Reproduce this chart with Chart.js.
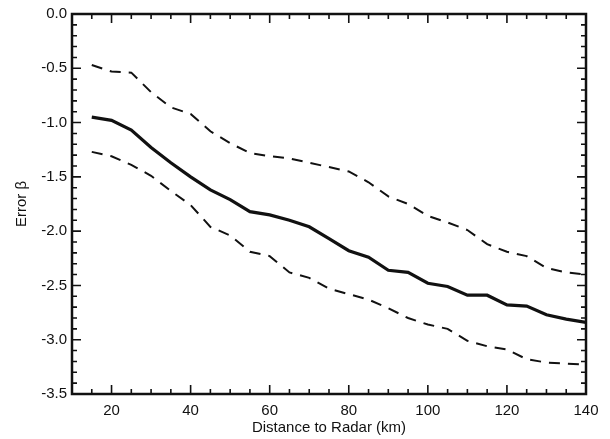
<!DOCTYPE html>
<html>
<head>
<meta charset="utf-8">
<script src="https://cdn.jsdelivr.net/npm/chart.js@4"></script>
<style>
  html, body { margin: 0; padding: 0; background: #fff; }
  #wrap { width: 610px; height: 439px; }
</style>
</head>
<body>
<div id="wrap"><canvas id="errChart" width="610" height="439"></canvas></div>
<script>
// distance to radar (km)
const distance = [15, 20, 25, 30, 35, 40, 45, 50, 55, 60, 65, 70, 75, 80, 85, 90, 95, 100, 105, 110, 115, 120, 125, 130, 135, 140];
// mean error
const errMean = [-0.95, -0.98, -1.07, -1.23, -1.37, -1.50, -1.62, -1.71, -1.82, -1.85, -1.90, -1.96, -2.07, -2.18, -2.24, -2.36, -2.38, -2.48, -2.51, -2.59, -2.59, -2.68, -2.69, -2.77, -2.81, -2.84];
// upper and lower bounds (dashed)
const errUpper = [-0.47, -0.53, -0.54, -0.72, -0.86, -0.92, -1.08, -1.19, -1.28, -1.31, -1.33, -1.37, -1.41, -1.45, -1.55, -1.68, -1.75, -1.86, -1.92, -1.99, -2.12, -2.19, -2.23, -2.34, -2.38, -2.40];
const errLower = [-1.27, -1.31, -1.39, -1.49, -1.63, -1.76, -1.96, -2.04, -2.19, -2.23, -2.38, -2.43, -2.53, -2.58, -2.63, -2.71, -2.80, -2.86, -2.90, -3.01, -3.06, -3.09, -3.18, -3.21, -3.22, -3.23];

const xTicks = [20, 40, 60, 80, 100, 120, 140];
const yTicks = [0, -0.5, -1, -1.5, -2, -2.5, -3, -3.5];

const FONT = "'Liberation Sans', Arial, Helvetica, sans-serif";

function pts(ys) {
    return distance.map((d, i) => ({ x: d, y: ys[i] }));
}

// IDL-style box with inward ticks on all four sides
const boxTicks = {
    id: 'boxTicks',
    afterDraw(chart) {
        const { ctx, chartArea: a, scales } = chart;
        const xs = scales.x, ys = scales.y;
        ctx.save();
        ctx.strokeStyle = '#111';
        ctx.lineWidth = 1.6;
        // minor + major x ticks
        for (let v = 10; v <= 140; v += 5) {
            const px = xs.getPixelForValue(v);
            const len = v % 20 === 0 ? 9 : 5;
            ctx.beginPath();
            ctx.moveTo(px, a.bottom); ctx.lineTo(px, a.bottom - len);
            ctx.moveTo(px, a.top); ctx.lineTo(px, a.top + len);
            ctx.stroke();
        }
        for (let k = 0; k <= 35; k++) {
            const v = -k / 10;
            const py = ys.getPixelForValue(v);
            const len = k % 5 === 0 ? 9 : 5;
            ctx.beginPath();
            ctx.moveTo(a.left, py); ctx.lineTo(a.left + len, py);
            ctx.moveTo(a.right, py); ctx.lineTo(a.right - len, py);
            ctx.stroke();
        }
        ctx.lineWidth = 2.5;
        ctx.strokeRect(a.left, a.top, a.right - a.left, a.bottom - a.top);
        ctx.restore();
    }
};

new Chart(document.getElementById('errChart').getContext('2d'), {
    type: 'line',
    data: {
        datasets: [
            { data: pts(errMean), borderColor: '#111', borderWidth: 3.2, pointRadius: 0, tension: 0 },
            { data: pts(errUpper), borderColor: '#111', borderWidth: 2, borderDash: [11, 8], pointRadius: 0, tension: 0 },
            { data: pts(errLower), borderColor: '#111', borderWidth: 2, borderDash: [11, 8], pointRadius: 0, tension: 0 }
        ]
    },
    options: {
        responsive: false,
        animation: false,
        layout: { padding: { left: 0, right: 24, top: 9, bottom: 0 } },
        plugins: { legend: { display: false }, tooltip: { enabled: false } },
        scales: {
            x: {
                type: 'linear', min: 10, max: 140,
                afterBuildTicks: s => { s.ticks = xTicks.map(v => ({ value: v })); },
                afterFit: s => { s.height = 45; },
                grid: { display: false, drawTicks: false },
                border: { display: false },
                ticks: { color: '#111', font: { family: FONT, size: 15 }, padding: 8, maxRotation: 0 },
                title: { display: true, text: 'Distance to Radar (km)', color: '#111', font: { family: FONT, size: 15 }, padding: { top: 0, bottom: 2 } }
            },
            y: {
                type: 'linear', min: -3.5, max: 0,
                afterBuildTicks: s => { s.ticks = yTicks.map(v => ({ value: v })); },
                afterFit: s => { s.width = 72; },
                grid: { display: false, drawTicks: false },
                border: { display: false },
                ticks: { color: '#111', font: { family: FONT, size: 15 }, padding: 5, callback: v => v.toFixed(1) },
                title: { display: true, text: 'Error \u03b2', color: '#111', font: { family: FONT, size: 15 }, padding: { top: 13, bottom: 0 } }
            }
        }
    },
    plugins: [boxTicks]
});
</script>
</body>
</html>
